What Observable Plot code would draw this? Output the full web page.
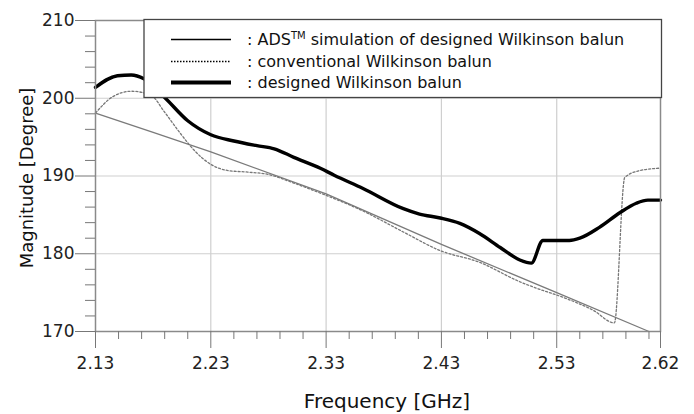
<!DOCTYPE html>
<html>
<head>
<meta charset="utf-8">
<script src="https://cdn.jsdelivr.net/npm/d3@7"></script>
<script src="https://cdn.jsdelivr.net/npm/@observablehq/plot@0.6"></script>
<style>
  body { margin: 0; background: #fff; }
  #chart svg { display: block; }
</style>
</head>
<body>
<div id="chart"></div>
<script>
// ---- Data ----
const xMajorTicks = [2.13, 2.23, 2.33, 2.43, 2.53, 2.62];
const xGridLines = [2.23, 2.33, 2.43, 2.53];
const xMinorTicks = [2.15, 2.17, 2.19, 2.21, 2.25, 2.27, 2.29, 2.31, 2.35, 2.37, 2.39, 2.41,
                     2.45, 2.47, 2.49, 2.51, 2.55, 2.57, 2.59, 2.61];
const yMajorTicks = [170, 180, 190, 200, 210];
const yGridLines = [180, 190, 200];
const yMinorTicks = [172, 174, 176, 178, 182, 184, 186, 188, 192, 194, 196, 198, 202, 204, 206, 208];

const xTitle = "Frequency [GHz]";
const yTitle = "Magnitude [Degree]";
const legendLabels = ["simulation of designed Wilkinson balun", "conventional Wilkinson balun", "designed Wilkinson balun"];

// ADS simulation of designed Wilkinson balun (thin gray solid)
const adsFreq = [2.13, 2.18, 2.23, 2.33, 2.43, 2.53, 2.61];
const adsDeg  = [198.1, 195.6, 193.1, 187.7, 181.2, 175.0, 170.0];

// conventional Wilkinson balun (dotted gray)
const convFreq = [2.130, 2.145, 2.161, 2.178, 2.190, 2.203, 2.215, 2.230, 2.245, 2.262, 2.280, 2.300,
                  2.325, 2.362, 2.397, 2.429, 2.463, 2.498, 2.510, 2.539, 2.562, 2.580, 2.589, 2.602, 2.619];
const convDeg  = [198.1, 200.2, 200.9, 200.4, 198.2, 195.6, 193.4, 191.5, 190.7, 190.5, 190.2, 189.2,
                  187.8, 185.5, 182.8, 180.4, 178.9, 176.4, 175.7, 174.2, 172.7, 171.1, 189.8, 190.7, 191.0];

// designed Wilkinson balun (thick black)
const desFreq = [2.130, 2.149, 2.161, 2.172, 2.190, 2.210, 2.230, 2.250, 2.270, 2.285, 2.302, 2.325,
                 2.337, 2.362, 2.397, 2.411, 2.429, 2.446, 2.463, 2.481, 2.498, 2.508, 2.518, 2.541,
                 2.550, 2.567, 2.585, 2.599, 2.609, 2.620];
const desDeg  = [201.4, 202.9, 203.0, 202.5, 200.1, 197.1, 195.3, 194.5, 193.9, 193.5, 192.4, 191.0,
                 190.1, 188.4, 185.8, 185.1, 184.6, 183.9, 182.6, 180.8, 179.2, 178.8, 181.7, 181.7,
                 182.0, 183.4, 185.3, 186.5, 186.9, 186.9];

const rows = (fs, vs) => fs.map((f, i) => ({f, v: vs[i]}));
const FONT = "DejaVu Sans, Liberation Sans, Arial, sans-serif";

const chart = Plot.plot({
  width: 694,
  height: 414,
  marginLeft: 95,
  marginRight: 34,
  marginTop: 20,
  marginBottom: 83,
  style: {fontFamily: FONT, background: "#fff", color: "#222"},
  x: {domain: [2.13, 2.62], label: null},
  y: {domain: [170, 210], label: null},
  marks: [
    Plot.gridX(xGridLines, {stroke: "#cfcfcf", strokeOpacity: 1, strokeWidth: 1.2}),
    Plot.gridY(yGridLines, {stroke: "#cfcfcf", strokeOpacity: 1, strokeWidth: 1.2}),
    Plot.line(rows(adsFreq, adsDeg), {x: "f", y: "v", stroke: "#7a7a7a", strokeWidth: 1.3}),
    Plot.line(rows(convFreq, convDeg), {x: "f", y: "v", stroke: "#777", strokeWidth: 1.3,
                                        strokeDasharray: "2,2", curve: "monotone-x"}),
    Plot.line(rows(desFreq, desDeg), {x: "f", y: "v", stroke: "#000", strokeWidth: 3.4,
                                      strokeLinejoin: "round", curve: "monotone-x"}),
    Plot.frame({stroke: "#8a8a8a", strokeWidth: 1.5}),
    Plot.axisX(xMinorTicks, {tickSize: 8, tickFormat: () => "", stroke: "#777", label: null}),
    Plot.axisX(xMajorTicks, {tickSize: 17, tickPadding: 8, fontSize: 17, fill: "#222", stroke: "#777",
                             tickFormat: d => d.toFixed(2), label: null}),
    Plot.axisY(yMinorTicks, {tickSize: 10, tickFormat: () => "", stroke: "#777", label: null}),
    Plot.axisY(yMajorTicks, {tickSize: 20, tickPadding: 1, fontSize: 17, fill: "#222", stroke: "#777",
                             tickFormat: d => String(d), label: null})
  ]
});

document.getElementById("chart").appendChild(chart);

// Axis titles and legend
const svg = d3.select(chart);
svg.append("text")
  .attr("x", 387).attr("y", 408)
  .attr("text-anchor", "middle")
  .attr("font-family", FONT).attr("font-size", 20).attr("fill", "#111")
  .text(xTitle);
svg.append("text")
  .attr("transform", "translate(33,178) rotate(-90)")
  .attr("text-anchor", "middle")
  .attr("font-family", FONT).attr("font-size", 18).attr("fill", "#111")
  .text(yTitle);

const lg = svg.append("g").attr("text-anchor", "start");
lg.append("rect")
  .attr("x", 144).attr("y", 19.5).attr("width", 517.5).attr("height", 78)
  .attr("fill", "#fff").attr("stroke", "#444").attr("stroke-width", 1.3);
const rowsY = [39.5, 61.5, 82.5];
const styles = [
  {w: 1.5, dash: null},
  {w: 1.6, dash: "1.5,1.5"},
  {w: 4.2, dash: null}
];
rowsY.forEach((yy, i) => {
  lg.append("line")
    .attr("x1", 171).attr("x2", 231).attr("y1", yy).attr("y2", yy)
    .attr("stroke", "#000").attr("stroke-width", styles[i].w)
    .attr("stroke-dasharray", styles[i].dash);
  const t = lg.append("text")
    .attr("x", 247).attr("y", yy + 5.5)
    .attr("text-anchor", "start")
    .attr("font-family", FONT).attr("font-size", 16).attr("fill", "#111");
  if (i === 0) {
    t.append("tspan").text(": ADS");
    t.append("tspan").attr("font-size", 10).attr("dy", -6).text("TM");
    t.append("tspan").attr("dy", 6).text(" " + legendLabels[0]);
  } else {
    t.text(": " + legendLabels[i]);
  }
});
</script>
</body>
</html>
